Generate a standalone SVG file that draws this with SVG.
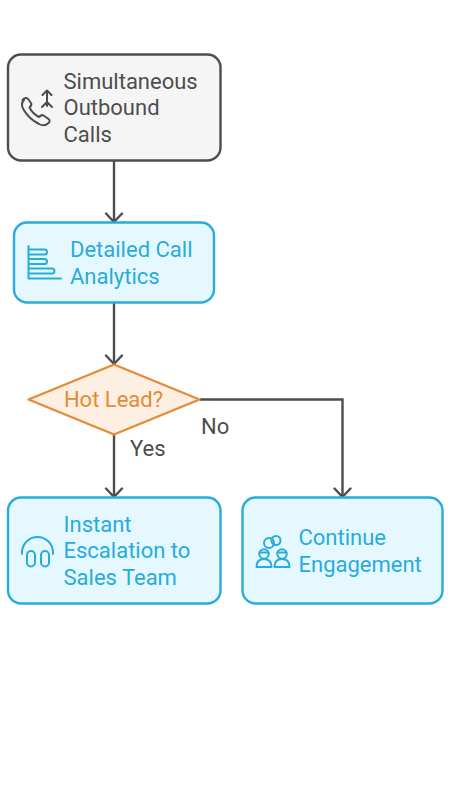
<svg xmlns="http://www.w3.org/2000/svg" width="450" height="800" viewBox="0 0 450 800">
<defs>
<marker id="arr" markerUnits="userSpaceOnUse" markerWidth="12" markerHeight="20" refX="10" refY="10" orient="auto" viewBox="0 0 12 20"><path d="M1.500 2 L10 10 L1.500 18" fill="none" stroke="#4d4d4d" stroke-width="2.400" stroke-linecap="round" stroke-linejoin="round"/></marker>
</defs>
<style>
text{font-family:Roboto,"Liberation Sans",sans-serif;font-size:22px}
.box{stroke-width:2.400}
.blue rect.box{fill:#e6f8ff;stroke:#27acdc}
.blue text{fill:#27acdc}
.ic{fill:none;stroke:#27acdc;stroke-width:2;stroke-linecap:round;stroke-linejoin:round}
.con{fill:none;stroke:#4d4d4d;stroke-width:2.400;marker-end:url(#arr)}
.lab{fill:#4d4d4d}
</style>
<rect width="450" height="800" fill="#ffffff"/>
<g id="connectors">
<path class="con" d="M114 161V222"/>
<path class="con" d="M114 303V364"/>
<path class="con" d="M114 435V497"/>
<path class="con" d="M200 399.500H342.500V497"/>
<text class="lab" x="201" y="434">No</text>
<text class="lab" x="130" y="456">Yes</text>
</g>
<g id="n1">
<rect class="box" x="8" y="54.500" width="212.500" height="106" rx="13" fill="#f5f5f5" stroke="#4d4d4d"/>
<path d="M22.500 100c2.500-2.500 4.500-2.500 6 -.5l2.500 3.500c1 1.500.5 2.500-1.500 4.500 2 4 5.500 7.500 9.500 9.500 2-2 3-2.500 4.500-1.500l5 3.500c1.500 1.200 1.500 2.500 0 4-2.500 2.500-6 3-9.500 1-7-3.500-12-8.500-15.500-14.500-2-3.500-2-7 .5-9.500z" fill="none" stroke="#4d4d4d" stroke-width="2" stroke-linejoin="round"/>
<path d="M47 106V90.500M42.500 95l4.500-4.500 4.500 4.500M42 107l5-5 5 5" fill="none" stroke="#4d4d4d" stroke-width="2" stroke-linecap="round" stroke-linejoin="round"/>
<text x="63.500" y="88.500" fill="#4d4d4d">Simultaneous</text>
<text x="63.500" y="115" fill="#4d4d4d">Outbound</text>
<text x="63.500" y="141.500" fill="#4d4d4d">Calls</text>
</g>
<g id="n2" class="blue">
<rect class="box" x="14" y="222.500" width="200" height="80" rx="13"/>
<path class="ic" d="M28.500 246V278.500H61M28.500 249.500H44.500q2.500 0 2.500 2.500t-2.500 2.500H28.500M28.500 259H44.500q2.500 0 2.500 2.500t-2.500 2.500H28.500M28.500 268.500H52q2.500 0 2.500 2.500t-2.500 2.500H28.500"/>
<text x="70" y="257">Detailed Call</text>
<text x="70" y="283.500">Analytics</text>
</g>
<g id="n3">
<path d="M114 364.500L199.500 399.500L114 434.500L28.500 399.500Z" fill="#fdf0e3" stroke="#e58a35" stroke-width="2.400" stroke-linejoin="round"/>
<text x="113.500" y="407" text-anchor="middle" fill="#e58a35">Hot Lead?</text>
</g>
<g id="n4" class="blue">
<rect class="box" x="8" y="497.500" width="212.500" height="106" rx="13"/>
<path class="ic" d="M22 554V552.500a15.500 15.500 0 0 1 31 0V554"/>
<rect class="ic" x="27" y="551" width="8" height="15.500" rx="4"/>
<rect class="ic" x="41" y="551" width="8" height="15.500" rx="4"/>
<text x="63.500" y="531.500">Instant</text>
<text x="63.500" y="558">Escalation to</text>
<text x="63.500" y="584.500">Sales Team</text>
</g>
<g id="n5" class="blue">
<rect class="box" x="242.500" y="497.500" width="200" height="106" rx="13"/>
<circle class="ic" cx="269" cy="543" r="5"/>
<circle class="ic" cx="276" cy="540.500" r="4.500"/>
<circle class="ic" cx="264" cy="554" r="4.700"/>
<circle class="ic" cx="282" cy="554" r="4.700"/>
<path class="ic" d="M259.500 552.500h9M277.500 552.500h9"/>
<path class="ic" d="M256.500 567c0-6 3-8 7.500-8s7.500 2 7.500 8zM274.500 567c0-6 3-8 7.500-8s7.500 2 7.500 8z"/>
<text x="298.500" y="545">Continue</text>
<text x="298.500" y="571.500">Engagement</text>
</g>
</svg>
